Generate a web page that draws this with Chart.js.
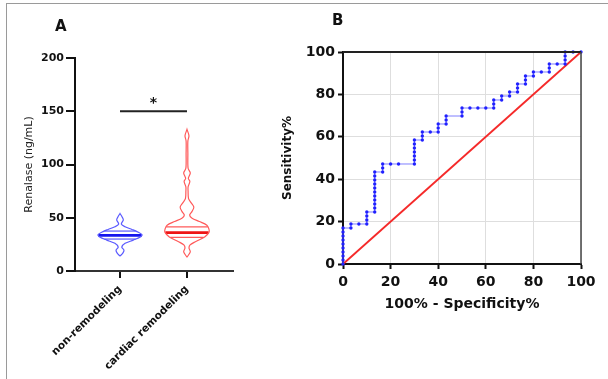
<!DOCTYPE html>
<html><head><meta charset="utf-8">
<script src="https://cdn.jsdelivr.net/npm/chart.js@4"></script>
<style>
html,body{margin:0;padding:0;background:#fff;}
#wrap{position:relative;width:608px;height:379px;overflow:hidden;background:#fff;}
#frame{position:absolute;left:6px;top:3px;width:700px;height:500px;border-top:1.5px solid #9a9a9a;border-left:1.5px solid #9a9a9a;}
#cA{position:absolute;left:0;top:0;}
#cB{position:absolute;left:270px;top:0;}
.lbl{position:absolute;font:bold 15px "DejaVu Sans";line-height:15px;color:#111;}
</style></head><body>
<div id="wrap"><div id="frame"></div>
<canvas id="cA" width="270" height="379"></canvas>
<canvas id="cB" width="338" height="379"></canvas>
<div class="lbl" style="left:55px;top:19px">A</div>
<div class="lbl" style="left:332px;top:13px">B</div>
</div>
<script>
// ---------- Panel A data ----------
const categories = ['non-remodeling', 'cardiac remodeling'];
const renalaseTicks = [0, 50, 100, 150, 200];
const nonRemLevels  = [14, 16.5, 19.5, 22.5, 26, 29, 32, 34, 37, 39, 41.5, 44, 48, 51, 54];
const nonRemDensity = [0, 0.12, 0.18, 0.08, 0.23, 0.6, 0.92, 1.0, 0.77, 0.54, 0.23, 0.06, 0.15, 0.09, 0];
const nonRemQuartiles = [30, 33.5, 37.5]; // Q1, median, Q3
const cardLevels  = [13, 18, 21.5, 24.5, 27.5, 32, 36.5, 39.5, 43, 46.5, 49.5, 52.5, 56, 60, 64, 68, 75, 79, 84, 87, 92, 96.5, 110, 122, 127, 133];
const cardDensity = [0, 0.15, 0.09, 0.14, 0.38, 0.8, 1.0, 0.99, 0.9, 0.56, 0.23, 0.12, 0.23, 0.31, 0.19, 0.07, 0.05, 0.05, 0.13, 0.06, 0.15, 0.05, 0.04, 0.04, 0.09, 0];
const cardQuartiles = [31.5, 36, 41.5];
const sigBarLevel = 150;
const sigLabel = '*';

// ---------- Panel B data ----------
const rocTicks = [0, 20, 40, 60, 80, 100];
const rocFpr = [
  0,0,0,0,0,0,0,0,0,0,
  3.33,3.33,
  6.67,
  10,10,10,10,
  13.33,13.33,13.33,13.33,13.33,13.33,13.33,13.33,13.33,13.33,13.33,
  16.67,16.67,16.67,
  20,
  23.33,
  30,30,30,30,30,30,30,
  33.33,33.33,33.33,
  36.67,
  40,40,40,
  43.33,43.33,43.33,
  50,50,50,
  53.33,56.67,60,
  63.33,63.33,63.33,
  66.67,66.67,
  70,70,
  73.33,73.33,73.33,
  76.67,76.67,76.67,
  80,80,
  83.33,
  86.67,86.67,86.67,
  90,
  93.33,93.33,93.33,93.33,
  96.67,
  100
];
const rocSens = [
  0,1.89,3.77,5.66,7.55,9.43,11.32,13.21,15.09,16.98,
  16.98,18.87,
  18.87,
  18.87,20.75,22.64,24.53,
  24.53,26.42,28.30,30.19,32.08,33.96,35.85,37.74,39.62,41.51,43.40,
  43.40,45.28,47.17,
  47.17,
  47.17,
  47.17,49.06,50.94,52.83,54.72,56.60,58.49,
  58.49,60.38,62.26,
  62.26,
  62.26,64.15,66.04,
  66.04,67.92,69.81,
  69.81,71.70,73.58,
  73.58,73.58,73.58,
  73.58,75.47,77.36,
  77.36,79.25,
  79.25,81.13,
  81.13,83.02,84.91,
  84.91,86.79,88.68,
  88.68,90.57,
  90.57,
  90.57,92.45,94.34,
  94.34,
  94.34,96.23,98.11,100,
  100,
  100
];
const refLineX = [0, 100];
const refLineY = [0, 100];

// ---------- helpers ----------
const HALF = 0.33;
function outline(c, lv, d) {
  const pts = [];
  for (let i = 0; i < lv.length; i++) pts.push({x: c + d[i] * HALF, y: lv[i]});
  for (let i = lv.length - 1; i >= 0; i--) pts.push({x: c - d[i] * HALF, y: lv[i]});
  return pts;
}
function densAt(lv, d, y) {
  for (let i = 0; i < lv.length - 1; i++) {
    if (y >= lv[i] && y <= lv[i + 1]) {
      const t = (y - lv[i]) / (lv[i + 1] - lv[i]);
      return d[i] + t * (d[i + 1] - d[i]);
    }
  }
  return 0;
}
function qline(c, lv, d, y) {
  const w = densAt(lv, d, y) * HALF;
  return [{x: c - w, y: y}, {x: c + w, y: y}];
}
function violinSets(c, lv, d, q, light, dark) {
  return [
    {data: outline(c, lv, d), borderColor: light, borderWidth: 1.2, tension: 0.3},
    {data: qline(c, lv, d, q[0]), borderColor: light, borderWidth: 1.2},
    {data: qline(c, lv, d, q[2]), borderColor: light, borderWidth: 1.2},
    {data: qline(c, lv, d, q[1]), borderColor: dark, borderWidth: 2.8}
  ];
}

const FONT = 'DejaVu Sans';
const starPlugin = {
  id: 'star',
  afterDatasetsDraw(chart) {
    const {ctx, scales: {x, y}} = chart;
    ctx.save();
    ctx.font = 'bold 14px "' + FONT + '"';
    ctx.fillStyle = '#111';
    ctx.textAlign = 'center';
    ctx.textBaseline = 'middle';
    ctx.fillText(sigLabel, x.getPixelForValue(1.5), y.getPixelForValue(sigBarLevel) - 8);
    ctx.restore();
  }
};

const dsA = [
  ...violinSets(1, nonRemLevels, nonRemDensity, nonRemQuartiles, '#5a5aff', '#1515ee'),
  ...violinSets(2, cardLevels, cardDensity, cardQuartiles, '#ff5a5a', '#ee1515'),
  {data: [{x: 1, y: sigBarLevel}, {x: 2, y: sigBarLevel}], borderColor: '#222', borderWidth: 2}
].map(d => Object.assign({showLine: true, pointRadius: 0, fill: false}, d));

new Chart(document.getElementById('cA'), {
  type: 'scatter',
  data: {datasets: dsA},
  plugins: [starPlugin],
  options: {
    responsive: false, animation: false,
    layout: {padding: {top: 58, right: 37, bottom: 0, left: 0}},
    plugins: {legend: {display: false}, tooltip: {enabled: false}},
    scales: {
      x: {
        type: 'linear', min: 0.328, max: 2.687,
        afterBuildTicks: s => { s.ticks = [{value: 1}, {value: 2}]; },
        afterFit: s => { s.height = 108; },
        border: {display: true, color: '#333', width: 2, dash: [2, 1]},
        grid: {drawOnChartArea: false, drawTicks: true, tickLength: 7, color: '#111', lineWidth: 2},
        ticks: {
          callback: v => categories[Math.round(v) - 1],
          minRotation: 45, maxRotation: 45, autoSkip: false,
          font: {family: FONT, weight: 'bold', size: 10.5}, color: '#111', padding: 5
        }
      },
      y: {
        min: 0, max: 200,
        afterBuildTicks: s => { s.ticks = renalaseTicks.map(v => ({value: v})); },
        afterFit: s => { s.width = 75; },
        border: {color: '#111', width: 2},
        grid: {drawOnChartArea: false, tickLength: 9, color: '#111', lineWidth: 2},
        ticks: {font: {family: FONT, weight: 'bold', size: 11}, color: '#111', padding: 2},
        title: {display: true, text: 'Renalase (ng/mL)', font: {family: FONT, size: 11}, color: '#222', padding: {top: 23, bottom: 0}}
      }
    }
  }
});

// ---------- Panel B ----------
const frameBPlugin = {
  id: 'frameB',
  afterDraw(chart) {
    const {ctx, chartArea: a} = chart;
    ctx.save();
    ctx.strokeStyle = '#222';
    ctx.lineWidth = 2;
    ctx.beginPath();
    ctx.moveTo(a.left, a.top); ctx.lineTo(a.right, a.top);
    ctx.stroke();
    ctx.strokeStyle = '#444';
    ctx.lineWidth = 1.5;
    ctx.beginPath();
    ctx.moveTo(a.right, a.top); ctx.lineTo(a.right, a.bottom);
    ctx.stroke();
    ctx.restore();
  }
};

new Chart(document.getElementById('cB'), {
  type: 'scatter',
  data: {
    datasets: [
      {
        data: rocFpr.map((v, i) => ({x: v, y: rocSens[i]})),
        showLine: true, borderColor: '#7f7fff', borderWidth: 1,
        pointRadius: 1.7, pointBackgroundColor: '#2020ff', pointBorderWidth: 0,
        clip: false, order: 0
      },
      {
        data: refLineX.map((v, i) => ({x: v, y: refLineY[i]})),
        showLine: true, borderColor: '#f52a2a', borderWidth: 2, pointRadius: 0, order: 1
      }
    ]
  },
  plugins: [frameBPlugin],
  options: {
    responsive: false, animation: false,
    layout: {padding: {top: 52, right: 27, bottom: 0, left: 0}},
    plugins: {legend: {display: false}, tooltip: {enabled: false}},
    scales: {
      x: {
        type: 'linear', min: 0, max: 100,
        afterBuildTicks: s => { s.ticks = rocTicks.map(v => ({value: v})); },
        afterFit: s => { s.height = 115; },
        border: {color: '#111', width: 2},
        grid: {color: '#dedede', lineWidth: 1, tickColor: '#111', tickLength: 5, tickWidth: 2},
        ticks: {font: {family: FONT, weight: 'bold', size: 14}, color: '#111', padding: 5},
        title: {display: true, text: '100% - Specificity%', font: {family: FONT, weight: 'bold', size: 14}, color: '#111', padding: {top: 0, bottom: 66}}
      },
      y: {
        min: 0, max: 100,
        afterBuildTicks: s => { s.ticks = rocTicks.map(v => ({value: v})); },
        afterFit: s => { s.width = 73; },
        border: {color: '#111', width: 2},
        grid: {color: '#dedede', lineWidth: 1, tickColor: '#111', tickLength: 5, tickWidth: 2},
        ticks: {font: {family: FONT, weight: 'bold', size: 14}, color: '#111', padding: 3},
        title: {display: true, text: 'Sensitivity%', font: {family: FONT, weight: 'bold', size: 12}, color: '#111', padding: {top: 11, bottom: 0}}
      }
    }
  }
});
</script>
</body></html>
